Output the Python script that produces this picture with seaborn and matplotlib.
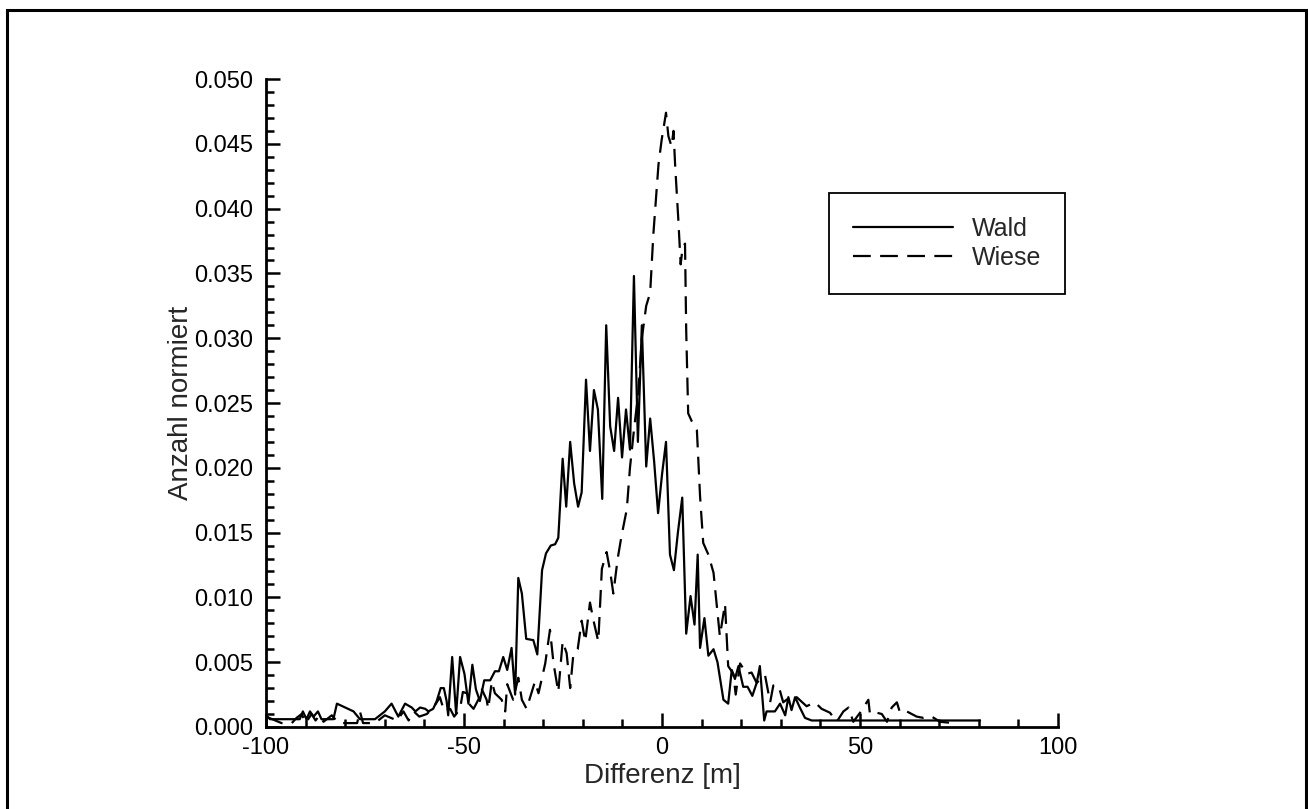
import matplotlib
matplotlib.use("Agg")
import matplotlib.pyplot as plt
from matplotlib.ticker import MultipleLocator, FormatStrFormatter
from matplotlib.patches import Rectangle
import seaborn as sns

# Wald (solid line)
wald_x = [-100, -99, -91.5, -90.7, -89.8, -88.9, -88, -86.9, -86, -83, -82.1, -80, -77.9, -76.3,
          -72.5, -70, -68.3, -66.6, -64.9, -63.2, -62.3, -61.1, -59.8, -59.0, -57.8, -56.9, -55.9,
          -55.1, -54.4, -54.0, -53.0, -52.0, -51.0, -49.9, -48.9, -47.9, -47.0, -46.0, -44.9,
          -43.4, -42.2, -41.2, -40.1, -39.1, -38.0, -37.1, -36.3, -35.4, -34.3, -32.5, -31.5,
          -30.3, -29.3, -28.1, -27.0, -26.2, -25.1, -24.2, -23.2, -22.2, -21.2, -20.3, -19.2,
          -18.2, -17.2, -16.2, -15.1, -14.1, -13.1, -12.1, -11.1, -10.1, -9.1, -8.1, -7.1, -6.1,
          -5.1, -4.0, -3.0, -2.0, -1.0, 0.0, 1.0, 2.0, 3.0, 4.0, 5.1, 6.1, 7.2, 8.2, 9.0, 9.6,
          10.7, 11.7, 13.0, 14.0, 15.5, 16.7, 17.6, 18.4, 19.3, 20.5, 21.6, 22.8, 23.9, 24.7,
          25.8, 26.4, 28.5, 29.8, 31.1, 31.9, 32.7, 33.6, 34.8, 36.1, 37.8, 80.3]
wald_y = [0.0009, 0.0006, 0.0006, 0.0012, 0.0006, 0.0012, 0.0008, 0.0012, 0.0006, 0.0006, 0.0018,
          0.0015, 0.0012, 0.0006, 0.0006, 0.0012, 0.0018, 0.0008, 0.0018, 0.0015, 0.0012, 0.0015,
          0.0014, 0.0012, 0.0014, 0.0020, 0.0030, 0.0030, 0.0020, 0.0009, 0.0054, 0.0010, 0.0054,
          0.0041, 0.0018, 0.0048, 0.0029, 0.0020, 0.0036, 0.0036, 0.0043, 0.0043, 0.0054, 0.0044,
          0.0061, 0.0025, 0.0115, 0.0103, 0.0068, 0.0067, 0.0056, 0.0121, 0.0134, 0.0140, 0.0141,
          0.0146, 0.0207, 0.0170, 0.0220, 0.0188, 0.0170, 0.0181, 0.0268, 0.0213, 0.0260, 0.0245,
          0.0176, 0.0310, 0.0232, 0.0213, 0.0254, 0.0208, 0.0245, 0.0214, 0.0348, 0.0220, 0.0310,
          0.0201, 0.0238, 0.0205, 0.0165, 0.0195, 0.0220, 0.0133, 0.0121, 0.0150, 0.0177, 0.0072,
          0.0101, 0.0079, 0.0133, 0.0061, 0.0084, 0.0055, 0.0060, 0.0050, 0.0021, 0.0018, 0.0044,
          0.0037, 0.0047, 0.0031, 0.0031, 0.0024, 0.0034, 0.0047, 0.0005, 0.0012, 0.0012, 0.0018,
          0.0009, 0.0023, 0.0013, 0.0023, 0.0015, 0.0007, 0.0005, 0.0005]

# Wiese (dashed line)
wiese_x = [-100, -96.1, -93.5, -92.3, -91, -90, -88.5, -87.5, -86.5, -85.5, -83.4, -81.7, -79.6,
           -77, -76.3, -75.5, -72.5, -70, -66.9, -65.3, -64, -62.7, -61.3, -59.4, -57.7, -56.1,
           -55, -53.5, -52.5, -51.0, -50.3, -49.3, -48.5, -47.6, -46.4, -45.5, -44.3, -43.9,
           -43.0, -42.2, -40.5, -39.6, -39.1, -37.6, -36.3, -35.4, -34.2, -32.1, -31.2, -29.5,
           -28.3, -27.4, -26.2, -25.1, -24.1, -23.2, -22.4, -21.3, -20.3, -19.4, -18.2, -17.3,
           -16.1, -15.2, -14.0, -13.1, -12.3, -11.2, -10.2, -8.9, -8.1, -7.1, -6.0, -5.1, -4.0,
           -3.0, -2.2, -0.9, -0.1, 1.0, 1.6, 2.4, 2.9, 3.3, 4.1, 4.7, 5.2, 5.8, 6.1, 6.6, 7.5,
           8.8, 9.6, 10.4, 11.7, 13.0, 14.6, 15.9, 16.7, 18.0, 18.6, 19.7, 21.4, 22.6, 23.9, 26.0,
           27.3, 28.1, 29.4, 30.6, 32.3, 34.0, 36.5, 38.6, 40.3, 42.4, 44.1, 45.8, 47.1, 48.3,
           50.0, 52.1, 52.5, 54.2, 55.5, 56.8, 58.0, 59.3, 60.1, 61.8, 64.3, 66.0, 68.1, 70.2, 73.5]
wiese_y = [0.0008, 0.0003, 0.0003, 0.0007, 0.0010, 0.0003, 0.0010, 0.0005, 0.0009, 0.0004, 0.0009,
           0.0003, 0.0003, 0.0003, 0.0012, 0.0003, 0.0003, 0.0009, 0.0005, 0.0012, 0.0005, 0.0012,
           0.0008, 0.0010, 0.0015, 0.0023, 0.0012, 0.0014, 0.0008, 0.0014, 0.0027, 0.0026, 0.0017,
           0.0014, 0.0021, 0.0029, 0.0021, 0.0014, 0.0035, 0.0026, 0.0021, 0.0012, 0.0033, 0.0021,
           0.0038, 0.0021, 0.0014, 0.0035, 0.0026, 0.0049, 0.0075, 0.0049, 0.0027, 0.0066, 0.0057,
           0.0030, 0.0056, 0.0060, 0.0082, 0.0066, 0.0096, 0.0082, 0.0066, 0.0122, 0.0135, 0.0120,
           0.0103, 0.0130, 0.0148, 0.0168, 0.0200, 0.0229, 0.0258, 0.0300, 0.0325, 0.0335, 0.0380,
           0.0434, 0.0453, 0.0474, 0.0456, 0.0448, 0.0460, 0.0434, 0.0392, 0.0357, 0.0370, 0.0373,
           0.0306, 0.0242, 0.0236, 0.0229, 0.0178, 0.0142, 0.0133, 0.0119, 0.0070, 0.0095, 0.0047,
           0.0041, 0.0025, 0.0049, 0.0041, 0.0042, 0.0034, 0.0040, 0.0019, 0.0032, 0.0032, 0.0019,
           0.0023, 0.0023, 0.0016, 0.0019, 0.0014, 0.0011, 0.0004, 0.0012, 0.0015, 0.0004, 0.0011,
           0.0021, 0.0010, 0.0011, 0.0010, 0.0004, 0.0015, 0.0019, 0.0011, 0.0012, 0.0008, 0.0007,
           0.0008, 0.0004, 0.0003]

sns.set_style("ticks")
plt.rcParams["font.family"] = ["Liberation Sans", "DejaVu Sans"]

fig = plt.figure(figsize=(13.08, 8.09), dpi=100)
ax = fig.add_axes([0.2034, 0.1014, 0.6055, 0.8009])

sns.lineplot(x=wald_x, y=wald_y, ax=ax, color="black", lw=1.6, estimator=None,
             label="Wald")
sns.lineplot(x=wiese_x, y=wiese_y, ax=ax, color="black", lw=1.6, estimator=None,
             linestyle=(0, (8, 4.2)), label="Wiese")

ax.set_xlim(-100, 100)
ax.set_ylim(0, 0.05)
ax.xaxis.set_major_locator(MultipleLocator(50))
ax.xaxis.set_minor_locator(MultipleLocator(10))
ax.yaxis.set_major_locator(MultipleLocator(0.005))
ax.yaxis.set_minor_locator(MultipleLocator(0.001))
ax.yaxis.set_major_formatter(FormatStrFormatter("%.3f"))
ax.xaxis.set_major_formatter(FormatStrFormatter("%d"))

ax.tick_params(which="both", direction="in", width=1.8, colors="black", labelsize=17)
ax.tick_params(which="major", length=10, pad=7)
ax.tick_params(which="minor", length=5.5)
ax.tick_params(axis="y", which="major", pad=9)

sns.despine(ax=ax)
for s in ["left", "bottom"]:
    ax.spines[s].set_linewidth(2)
    ax.spines[s].set_color("black")

ax.set_xlabel("Differenz [m]", fontsize=20, labelpad=3)
ax.set_ylabel("Anzahl normiert", fontsize=20, labelpad=0.5)

leg = ax.legend(loc="upper left", bbox_to_anchor=(0.711, 0.824), borderaxespad=0,
                fancybox=False, edgecolor="black", framealpha=1, fontsize=18,
                handlelength=4.0, handletextpad=0.75, borderpad=0.95, labelspacing=0.2)
leg.get_frame().set_linewidth(1.3)

# outer frame round the whole picture
fig.patches.append(Rectangle((0.0054, -0.01), 0.993, 0.9976, transform=fig.transFigure,
                             fill=False, edgecolor="black", lw=2.2))

fig.savefig("out.png", dpi=100)
